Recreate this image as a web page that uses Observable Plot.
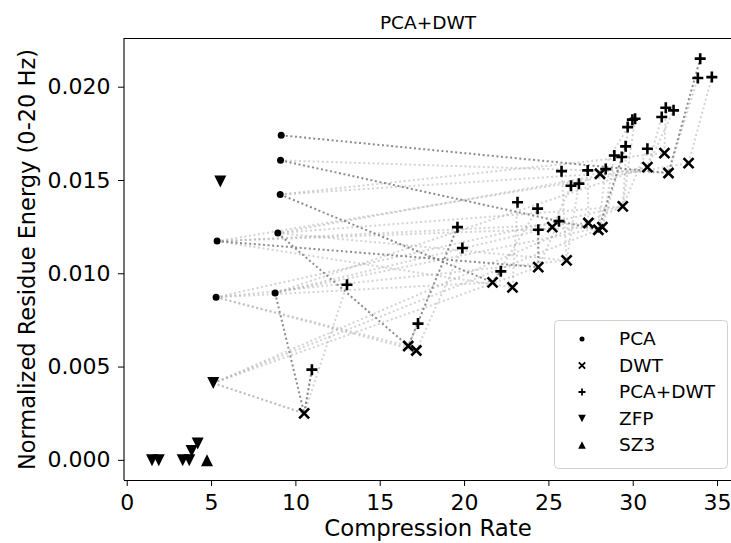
<!DOCTYPE html>
<html><head><meta charset="utf-8">
<script src="https://cdn.jsdelivr.net/npm/d3@7"></script>
<script src="https://cdn.jsdelivr.net/npm/@observablehq/plot@0.6"></script>
<style>body{margin:0;background:#fff;} #chart{width:731px;height:543px;position:relative;}</style>
</head><body><div id="chart"></div>
<script>
// ---- data ----
const pcaX = [9.13, 9.09, 9.07, 8.93, 5.33, 8.77, 5.27];
const pcaY = [0.01742, 0.01608, 0.01425, 0.01218, 0.01175, 0.00897, 0.00874];
const dwtX = [10.49, 16.66, 17.14, 21.66, 22.84, 24.37, 25.2, 26.05, 27.34, 27.93, 28.03, 28.17, 29.38, 30.84, 31.85, 32.09, 33.28];
const dwtY = [0.00252, 0.00613, 0.00589, 0.00954, 0.00927, 0.01036, 0.0125, 0.01072, 0.01272, 0.01236, 0.01536, 0.0125, 0.01361, 0.01572, 0.01647, 0.0154, 0.01593];
const comboX = [10.95, 13.03, 17.24, 19.58, 19.87, 22.15, 23.14, 24.33, 24.37, 25.6, 25.75, 26.31, 26.78, 27.3, 28.37, 28.88, 29.32, 29.55, 29.67, 29.95, 30.11, 30.84, 31.69, 31.93, 32.39, 33.83, 33.97, 34.66];
const comboY = [0.00486, 0.00941, 0.00733, 0.0125, 0.01138, 0.01013, 0.01383, 0.01349, 0.01236, 0.01282, 0.0155, 0.01472, 0.01483, 0.01554, 0.01561, 0.01634, 0.01626, 0.01683, 0.01786, 0.01826, 0.01831, 0.0167, 0.0184, 0.0189, 0.01876, 0.02049, 0.02153, 0.02054];
const zfpX = [5.52, 5.10, 1.47, 1.87, 3.29, 3.68, 3.82, 4.18];
const zfpY = [0.01495, 0.00414, 0, 0, 0, 0, 0.0005, 0.0009];
const sz3X = [4.73];
const sz3Y = [0];
// links: source (PCA index; 7 = the point under ZFP[1]) -> DWT -> PCA+DWT
const linkSrc   = [5,7,7,6,3,6,2,4,6,4,7,3,5,6,4,7,5,4,1,3,2,6,7,5,2,3,1,0,4];
const linkDwt   = [0,0,0,1,1,2,3,4,3,5,5,7,6,7,8,9,11,11,9,12,10,12,12,13,14,13,15,15,16];
const linkCombo = [0,0,1,2,3,4,5,6,7,8,9,10,11,12,13,14,15,16,17,18,19,20,21,22,23,24,25,26,27];
const linkDark  = [1,0,0,0,1,0,1,0,0,1,0,0,0,0,0,0,0,0,1,0,0,0,0,0,0,0,0,1,0];
const xTicks = [0, 5, 10, 15, 20, 25, 30, 35];
const yTicks = [0, 0.005, 0.010, 0.015, 0.020];
const legendLabels = ["PCA", "DWT", "PCA+DWT", "ZFP", "SZ3"];

// ---- build tables ----
const pts = (xs, ys) => xs.map((x, i) => ({x, y: ys[i]}));
const pca = pts(pcaX, pcaY), dwt = pts(dwtX, dwtY), combo = pts(comboX, comboY);
const zfp = pts(zfpX, zfpY), sz3 = pts(sz3X, sz3Y);
const sources = [...pca, zfp[1]];
const lineData = [];
linkSrc.forEach((s, i) => {
  [sources[s], dwt[linkDwt[i]], combo[linkCombo[i]]].forEach(p =>
    lineData.push({x: p.x, y: p.y, id: i, dark: linkDark[i] === 1}));
});

const sym = f => ({draw: (c, size) => f(c, Math.sqrt(size / Math.PI))});
const timesSym = sym((c, r) => {c.moveTo(-r, -r); c.lineTo(r, r); c.moveTo(-r, r); c.lineTo(r, -r);});
const plusSym = sym((c, r) => {c.moveTo(-r, 0); c.lineTo(r, 0); c.moveTo(0, -r); c.lineTo(0, r);});
const triDown = sym((c, r) => {c.moveTo(0, r); c.lineTo(-r, -r); c.lineTo(r, -r); c.closePath();});
const triUp = sym((c, r) => {c.moveTo(0, -r); c.lineTo(-r, r); c.lineTo(r, r); c.closePath();});

const W = 731, H = 543;
const xDom = [-0.19, 36.3], yDom = [-0.00108, 0.02261];
const FONT = "DejaVu Sans";
const lineStyle = {x: "x", y: "y", z: "id", strokeWidth: 2, strokeDasharray: "2,2.6", strokeLinecap: "butt", strokeLinejoin: "miter"};
const plot = Plot.plot({
  width: W, height: H,
  marginLeft: 124, marginRight: 0, marginTop: 38, marginBottom: 63,
  style: {fontFamily: FONT, fontSize: "22px", color: "black", background: "white", overflow: "visible"},
  x: {domain: xDom, range: [123.5, 739]},
  y: {domain: yDom, range: [480, 38]},
  marks: [
    Plot.line(lineData.filter(d => !d.dark), {...lineStyle, stroke: "#a0a0a0", strokeOpacity: 0.45}),
    Plot.line(lineData.filter(d => d.dark), {...lineStyle, stroke: "#808080", strokeOpacity: 0.9}),
    Plot.dot(pca, {x: "x", y: "y", r: 3.5, fill: "black", stroke: "none"}),
    Plot.dot(dwt, {x: "x", y: "y", r: 5, symbol: timesSym, fill: "none", stroke: "black", strokeWidth: 2.6}),
    Plot.dot(combo, {x: "x", y: "y", r: 5.5, symbol: plusSym, fill: "none", stroke: "black", strokeWidth: 2.6}),
    Plot.dot(zfp, {x: "x", y: "y", r: 6, symbol: triDown, fill: "black", stroke: "none"}),
    Plot.dot(sz3, {x: "x", y: "y", r: 6, symbol: triUp, fill: "black", stroke: "none"}),
    Plot.ruleX([xDom[0]], {stroke: "black", strokeWidth: 1.1}),
    Plot.ruleY([yDom[1]], {stroke: "black", strokeWidth: 1.1}),
    Plot.ruleY([yDom[0]], {stroke: "black", strokeWidth: 1.1}),
    Plot.axisX({ticks: xTicks, tickFormat: d => String(d), tickSize: 6, tickPadding: 7.5, label: null, fontSize: 22, stroke: "black"}),
    Plot.axisY({ticks: yTicks, tickFormat: d3.format(".3f"), tickSize: 6, tickPadding: 8, label: null, fontSize: 22, stroke: "black"}),
    Plot.text(["PCA+DWT"], {frameAnchor: "top", textAnchor: "middle", lineAnchor: "middle", dy: -15.6, fontSize: 18.5, fill: "black"}),
    Plot.text(["Compression Rate"], {frameAnchor: "bottom", textAnchor: "middle", lineAnchor: "middle", dy: 48, fontSize: 22.8, fill: "black"}),
    Plot.text(["Normalized Residue Energy (0-20 Hz)"], {frameAnchor: "left", textAnchor: "middle", lineAnchor: "middle", dx: -97, rotate: -90, fontSize: 22.5, fill: "black"})
  ]
});
document.getElementById("chart").appendChild(plot);

// ---- legend ----
const svg = d3.select(plot);
const lg = svg.append("g").attr("font-family", FONT);
lg.append("rect").attr("x", 554.5).attr("y", 320.5).attr("width", 173).attr("height", 148)
  .attr("rx", 4).attr("fill", "white").attr("fill-opacity", 0.8).attr("stroke", "#d0d0d0").attr("stroke-width", 1);
const legSyms = [
  {s: d3.symbolCircle, r: 2.5, fill: true},
  {s: timesSym, r: 3.2, fill: false},
  {s: plusSym, r: 3.5, fill: false},
  {s: triDown, r: 3.8, fill: true},
  {s: triUp, r: 3.8, fill: true}
];
legendLabels.forEach((lab, i) => {
  const y = 339 + i * 26.5;
  const m = legSyms[i];
  lg.append("path").attr("transform", `translate(582,${y})`)
    .attr("d", d3.symbol(m.s, m.r * m.r * Math.PI)())
    .attr("fill", m.fill ? "black" : "none").attr("stroke", m.fill ? "none" : "black").attr("stroke-width", 1.8);
  lg.append("text").attr("x", 619).attr("y", y).attr("dy", "0.35em").attr("text-anchor", "start")
    .attr("font-size", 18.5).attr("fill", "black").text(lab);
});
</script></body></html>
